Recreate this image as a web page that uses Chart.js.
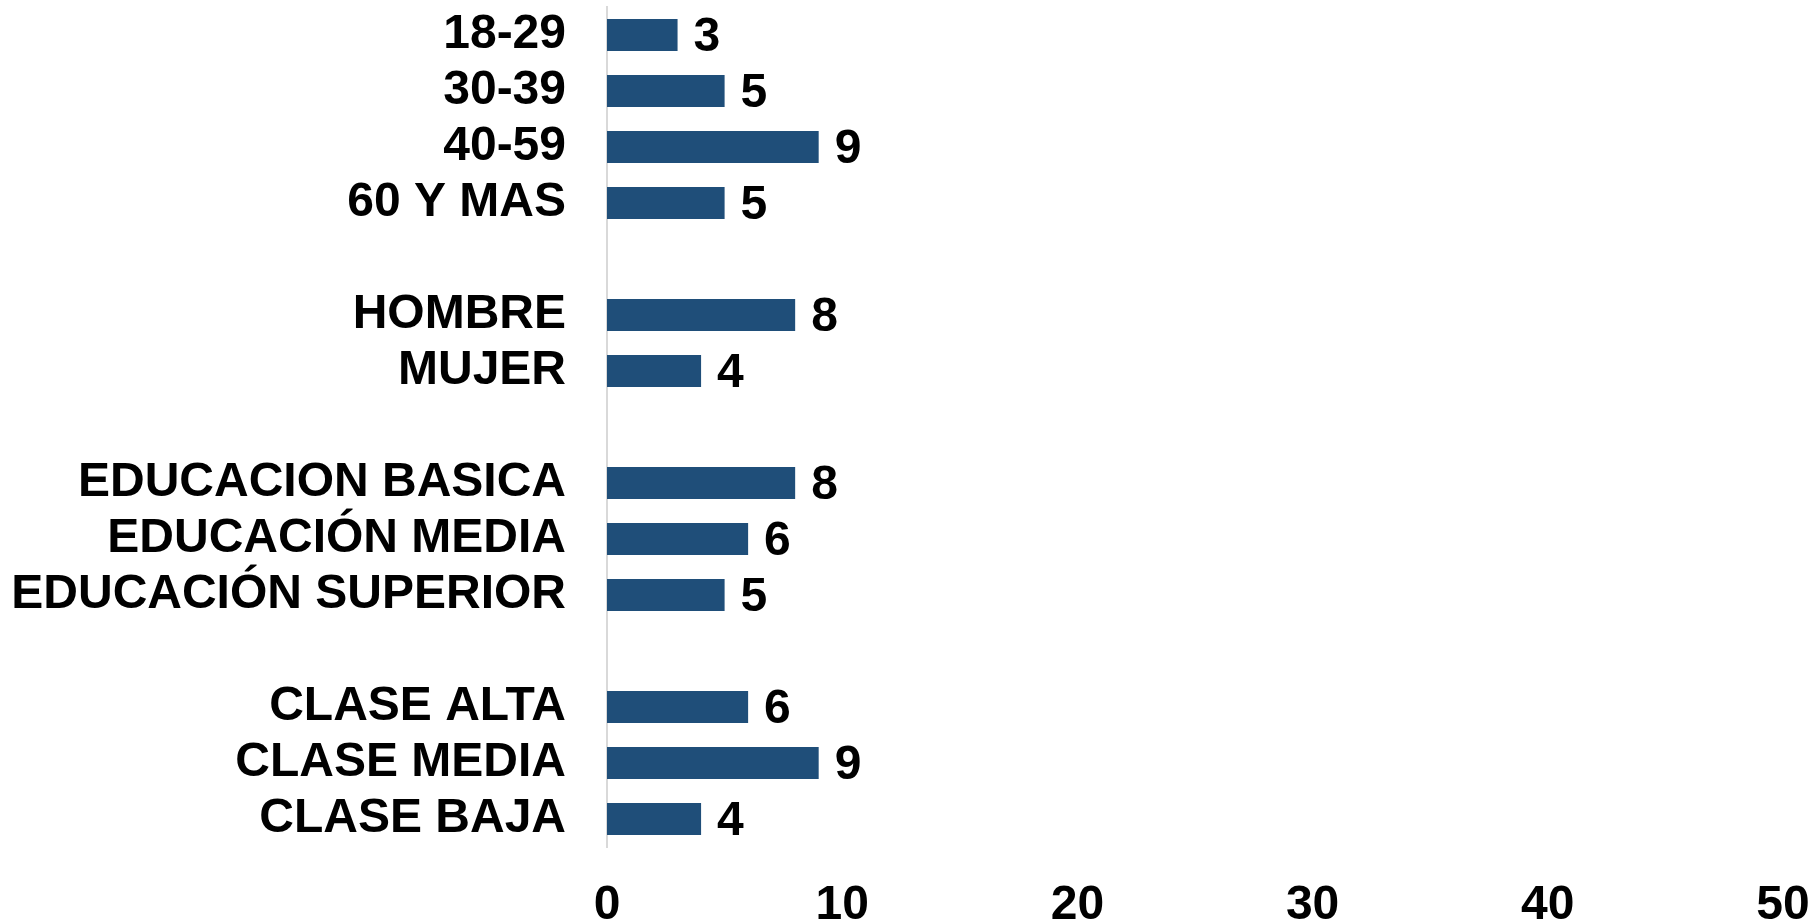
<!DOCTYPE html>
<html>
<head>
<meta charset="utf-8">
<script src="https://cdn.jsdelivr.net/npm/chart.js@4.4.1/dist/chart.umd.min.js"></script>
<style>
  body { margin: 0; background: #fff; }
  .wrap { width: 1820px; height: 924px; }
</style>
</head>
<body>
<div class="wrap"><canvas id="myChart"></canvas></div>
<script>
// categorias (vacias = separacion entre grupos)
var categorias = ['18-29', '30-39', '40-59', '60 Y MAS', '',
  'HOMBRE', 'MUJER', '',
  'EDUCACION BASICA', 'EDUCACIÓN MEDIA', 'EDUCACIÓN SUPERIOR', '',
  'CLASE ALTA', 'CLASE MEDIA', 'CLASE BAJA'];
var valores = [3, 5, 9, 5, null, 8, 4, null, 8, 6, 5, null, 6, 9, 4];
var ticksX = [0, 10, 20, 30, 40, 50];

var fuente = { family: '"Liberation Sans", Arial, sans-serif', size: 48, weight: 'bold' };

// etiquetas de valor al final de cada barra
var etiquetas = {
  id: 'etiquetas',
  afterDatasetsDraw: function(chart) {
    var ctx = chart.ctx;
    var meta = chart.getDatasetMeta(0);
    ctx.save();
    ctx.font = 'bold 48px "Liberation Sans", Arial, sans-serif';
    ctx.fillStyle = '#000';
    ctx.textAlign = 'left';
    ctx.textBaseline = 'middle';
    meta.data.forEach(function(bar, i) {
      if (valores[i] == null) return;
      ctx.fillText(valores[i], bar.x + 16, bar.y + 3);
    });
    ctx.restore();
  }
};

const ctx = document.getElementById('myChart');

new Chart(ctx, {
  type: 'bar',
  data: {
    labels: categorias,
    datasets: [{
      data: valores,
      backgroundColor: '#1F4E79',
      borderWidth: 0,
      barPercentage: 0.57,
      categoryPercentage: 1
    }]
  },
  options: {
    indexAxis: 'y',
    responsive: true,
    maintainAspectRatio: false,
    animation: false,
    layout: { padding: { top: 7, right: 37, bottom: 0, left: 0 } },
    plugins: {
      legend: { display: false },
      tooltip: { enabled: false }
    },
    scales: {
      x: {
        min: 0,
        max: 50,
        afterBuildTicks: function(scale) {
          scale.ticks = ticksX.map(function(v) { return { value: v }; });
        },
        afterFit: function(scale) {
          scale.height = 77;
          scale.paddingLeft = 0;
          scale.paddingRight = 0;
        },
        grid: { display: false },
        border: { display: false },
        ticks: { color: '#000', font: fuente, padding: 22, maxRotation: 0 }
      },
      y: {
        afterFit: function(scale) {
          scale.width = 607;
          scale.paddingTop = 0;
          scale.paddingBottom = 0;
        },
        grid: { display: false },
        border: { display: true, color: '#d9d9d9', width: 2 },
        ticks: { color: '#000', font: fuente, padding: 33, autoSkip: false }
      }
    }
  },
  plugins: [etiquetas]
});
</script>
</body>
</html>
